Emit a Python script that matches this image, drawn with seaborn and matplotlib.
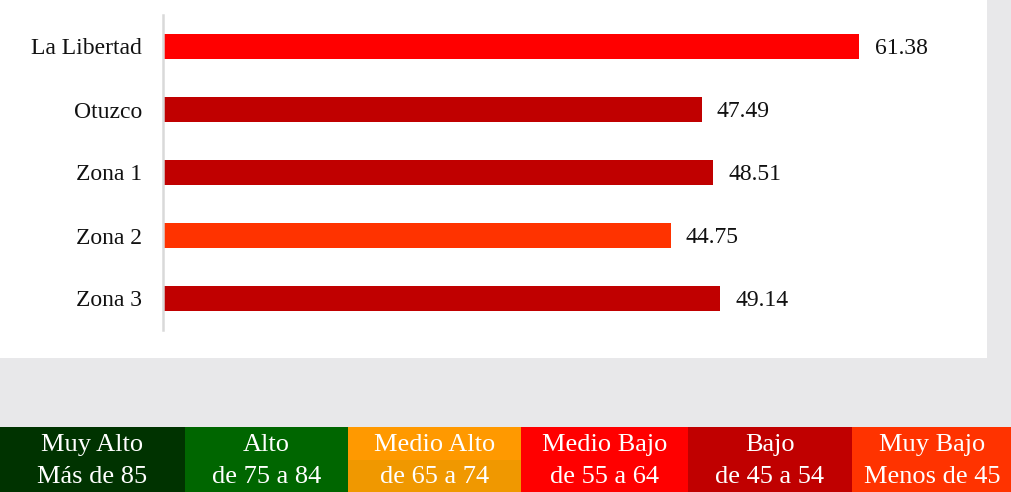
import matplotlib.pyplot as plt
import seaborn as sns
from matplotlib.patches import Rectangle

# Data
zonas = ['La Libertad', 'Otuzco', 'Zona 1', 'Zona 2', 'Zona 3']
valores = [61.38, 47.49, 48.51, 44.75, 49.14]
colores = ['#FF0000', '#C00000', '#C00000', '#FF3300', '#C00000']

niveles = ['Muy Alto', 'Alto', 'Medio Alto', 'Medio Bajo', 'Bajo', 'Muy Bajo']
rangos = ['Más de 85', 'de 75 a 84', 'de 65 a 74', 'de 55 a 64', 'de 45 a 54', 'Menos de 45']
colores_nivel = ['#003300', '#006600', '#FF9900', '#FF0000', '#C00000', '#FF3300']
colores_nivel_bajo = ['#003300', '#006600', '#F09800', '#FF0000', '#C00000', '#FF3300']
bordes = [0, 185, 348, 521, 688, 852, 1012]  # legend box edges (px)

sns.set_style('white')
plt.rcParams['font.family'] = ['Liberation Serif', 'DejaVu Serif']

fig = plt.figure(figsize=(10.12, 4.92), dpi=100)
fig.patch.set_facecolor('#e8e8ea')
fig.patches.append(Rectangle((0, 134 / 492), 987 / 1012, 358 / 492,
                             transform=fig.transFigure, facecolor='white',
                             edgecolor='none', zorder=-5))

# Bar chart
ax = fig.add_axes([163 / 1012, 162 / 492, 794 / 1012, 315 / 492])
ax.set_zorder(2)
ax.set_facecolor('none')
sns.barplot(x=valores, y=zonas, hue=zonas, palette=colores, legend=False,
            orient='h', width=0.41, saturation=1, linewidth=0, ax=ax)
ax.set_xlim(0, 70)
ax.set_ylim(4.5, -0.5)
ax.set_xticks([])
ax.set_xlabel('')
ax.set_ylabel('')
sns.despine(ax=ax, left=False, bottom=True)
ax.spines['left'].set_color('#d9d9d9')
ax.spines['left'].set_linewidth(1.8)
ax.tick_params(axis='y', length=0, pad=15, labelsize=17, labelcolor='#111111')
for i, v in enumerate(valores):
    ax.annotate(f'{v:.2f}', xy=(v, i), xytext=(11, -1.5), textcoords='offset points',
                va='center', ha='left', fontsize=17, color='#111111')

# Level legend strip
lg = fig.add_axes([0, 0, 1, 65 / 492])
lg.set_zorder(2)
lg.set_xlim(0, 1012)
lg.set_ylim(2, 0)
lefts = bordes[:-1]
anchos = [b - a for a, b in zip(bordes[:-1], bordes[1:])]
lg.barh([0.5] * 6, anchos, left=lefts, height=1, color=colores_nivel,
        align='center', linewidth=0, edgecolor='none')
lg.barh([1.5] * 6, anchos, left=lefts, height=1, color=colores_nivel_bajo,
        align='center', linewidth=0, edgecolor='none')
for izq, w, n, r in zip(lefts, anchos, niveles, rangos):
    lg.text(izq + w / 2, 0.55, n, ha='center', va='center', color='white', fontsize=19)
    lg.text(izq + w / 2, 1.55, r, ha='center', va='center', color='white', fontsize=19)
lg.axis('off')

fig.savefig('out.png', dpi=100, facecolor=fig.get_facecolor())
